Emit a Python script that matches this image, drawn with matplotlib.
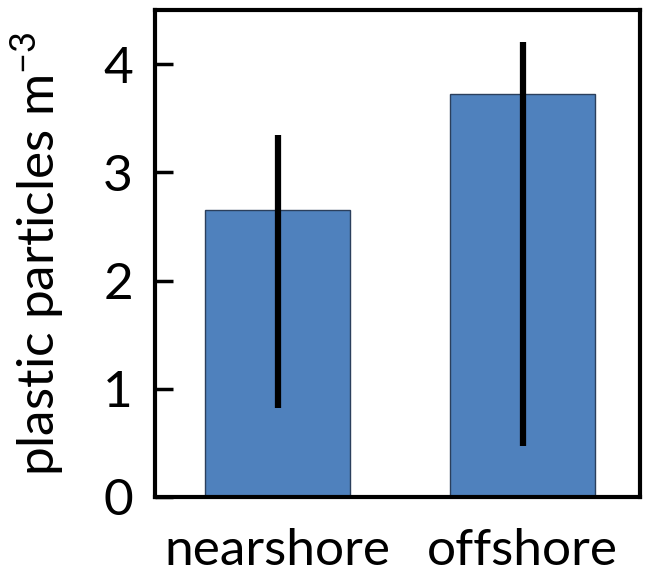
import matplotlib.pyplot as plt

categories = ['nearshore', 'offshore']
means = [2.65, 3.72]
err_low = [0.82, 0.47]
err_high = [3.34, 4.20]

plt.rcParams['font.family'] = ['Lato', 'DejaVu Sans']
plt.rcParams['mathtext.fontset'] = 'custom'
plt.rcParams['mathtext.rm'] = 'Lato'

fig = plt.figure(figsize=(6.52, 5.84), dpi=100)
ax = fig.add_axes([0.238, 0.149, 0.744, 0.834])

x = list(range(len(categories)))
lower = [m - lo for m, lo in zip(means, err_low)]
upper = [hi - m for m, hi in zip(means, err_high)]

ax.bar(x, means, width=0.59, color='#4F81BD', edgecolor='#2b3f5c', linewidth=1)
ax.errorbar(x, means, yerr=[lower, upper], fmt='none', ecolor='black',
            elinewidth=4.5, capsize=0)

ax.set_xlim(-0.5, 1.48)
ax.set_ylim(0, 4.5)
ax.set_yticks([0, 1, 2, 3, 4])
ax.set_xticks(x)
ax.set_xticklabels(categories)
ax.tick_params(axis='y', direction='in', length=13, width=2.5, labelsize=37, pad=16)
ax.tick_params(axis='x', length=0, labelsize=37, pad=22)
for s in ax.spines.values():
    s.set_linewidth(3)
ax.set_ylabel('plastic particles m$\\mathregular{^{-3}}$', fontsize=37, labelpad=26)

fig.savefig('out.png', dpi=100)
